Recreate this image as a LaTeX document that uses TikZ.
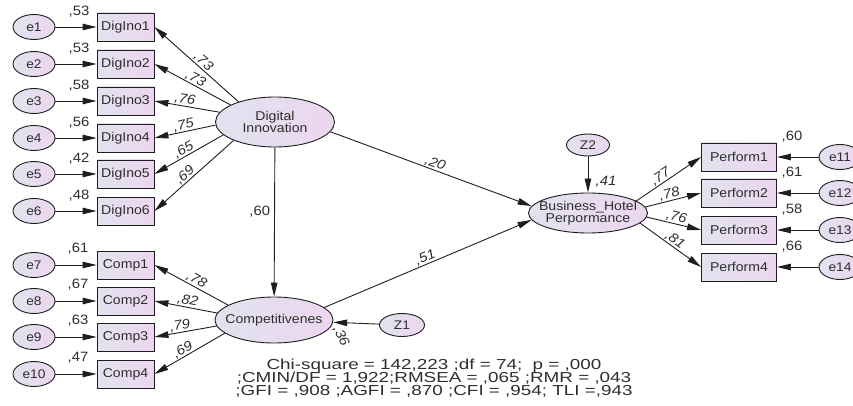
\documentclass[tikz,border=0pt]{standalone}
\usepackage{fontspec}
\setmainfont[FakeStretch=1.1]{Liberation Sans}
\newfontfamily\statfont[FakeStretch=1.3]{Liberation Sans}
\usetikzlibrary{arrows.meta,shapes.geometric}
\definecolor{shadeleft}{HTML}{E1E3EF}
\definecolor{shaderight}{HTML}{ECD6EF}
\definecolor{inkgray}{HTML}{2E2E2E}
\definecolor{edgegray}{HTML}{1E1E1E}
\tikzset{
  >={Triangle[length=14pt,width=6.5pt]},
  obs/.style={draw=edgegray, line width=0.9pt, left color=shadeleft,
    right color=shaderight, minimum width=57pt, minimum height=28pt,
    inner sep=0pt, text=inkgray, font=\fontsize{12.8}{14}\selectfont},
  latent/.style={ellipse, draw=edgegray, line width=0.9pt,
    left color=shadeleft, right color=shaderight, inner xsep=-8pt,
    inner ysep=0pt, align=center, text=inkgray,
    font=\fontsize{12.8}{12.5}\selectfont},
  err/.style={latent, minimum width=42pt, minimum height=25pt,
    font=\fontsize{12.5}{14}\selectfont},
  lbl/.style={inner sep=1pt, text=inkgray, font=\fontsize{13.5}{15}\selectfont},
  coef/.style={lbl, sloped, above, inner sep=0.5pt,
    font=\itshape\fontsize{13.5}{15}\selectfont},
}
\begin{document}
\begin{tikzpicture}[x=1pt,y=-1pt]
  \clip (0,0) rectangle (853,406);
  \path
    (34,27) node[err] (e1){e1}
    (34,64) node[err] (e2){e2}
    (34,101) node[err] (e3){e3}
    (34,138) node[err] (e4){e4}
    (34,174) node[err] (e5){e5}
    (34,211) node[err] (e6){e6}
    (34,265) node[err] (e7){e7}
    (34,301) node[err] (e8){e8}
    (34,337) node[err] (e9){e9}
    (34,374) node[err] (e10){e10}
    (840,157) node[err] (e11){e11}
    (840,193) node[err] (e12){e12}
    (840,230) node[err] (e13){e13}
    (840,267) node[err] (e14){e14}
    (125.5,27) node[obs] (DigIno1){DigIno1}
    (125.5,64) node[obs] (DigIno2){DigIno2}
    (125.5,101) node[obs] (DigIno3){DigIno3}
    (125.5,138) node[obs] (DigIno4){DigIno4}
    (125.5,174) node[obs] (DigIno5){DigIno5}
    (125.5,211) node[obs] (DigIno6){DigIno6}
    (125.5,265) node[obs] (Comp1){Comp1}
    (125.5,301) node[obs] (Comp2){Comp2}
    (125.5,337) node[obs] (Comp3){Comp3}
    (125.5,374) node[obs] (Comp4){Comp4}
    (739,157) node[obs, minimum width=75pt] (Perform1){Perform1}
    (739,193) node[obs, minimum width=75pt] (Perform2){Perform2}
    (739,230) node[obs, minimum width=75pt] (Perform3){Perform3}
    (739,267) node[obs, minimum width=75pt] (Perform4){Perform4}
    (275,122) node[latent, minimum width=119pt, minimum height=50pt] (DI){Digital\\Innovation}
    (274,320) node[latent, minimum width=118pt, minimum height=46pt] (Comp){Competitivenes}
    (588,213) node[latent, minimum width=119pt, minimum height=40pt] (BHP){Business\_Hotel\\Perpormance}
    (402,325) node[err, minimum width=45pt, minimum height=23pt] (Z1){Z1}
    (588,145) node[err, minimum width=43pt, minimum height=22pt] (Z2){Z2};
  % squared multiple correlations
  \path
    (79,12) node[lbl] (r1){,53}
    (79,49) node[lbl] (r2){,53}
    (79,86) node[lbl] (r3){,58}
    (79,123) node[lbl] (r4){,56}
    (79,159) node[lbl] (r5){,42}
    (79,196) node[lbl] (r6){,48}
    (78,249) node[lbl] (r7){,61}
    (78,285) node[lbl] (r8){,67}
    (78,321) node[lbl] (r9){,63}
    (78,358) node[lbl] (r10){,47}
    (792,137) node[lbl] (r11){,60}
    (792,173) node[lbl] (r12){,61}
    (792,210) node[lbl] (r13){,58}
    (792,247) node[lbl] (r14){,66}
    (606,182) node[lbl, font=\itshape\fontsize{13.5}{15}\selectfont] (rbhp){,41}
    (341,336) node[lbl, rotate=-65, font=\itshape\fontsize{13.5}{15}\selectfont] (rcomp){,36};
  \begin{scope}[->, draw=edgegray, line width=0.9pt]
    \draw (e1) to (DigIno1);
    \draw (e2) to (DigIno2);
    \draw (e3) to (DigIno3);
    \draw (e4) to (DigIno4);
    \draw (e5) to (DigIno5);
    \draw (e6) to (DigIno6);
    \draw (e7) to (Comp1);
    \draw (e8) to (Comp2);
    \draw (e9) to (Comp3);
    \draw (e10) to (Comp4);
    \draw (e11) to (Perform1);
    \draw (e12) to (Perform2);
    \draw (e13) to (Perform3);
    \draw (e14) to (Perform4);
    \draw (DI.151) to node[coef, pos=.47] (c1){,73} (DigIno1.east);
    \draw (DI.159) to node[coef, pos=.5] (c2){,73} (DigIno2.east);
    \draw (DI.170) to node[coef, pos=.55] (c3){,76} (DigIno3.east);
    \draw (DI.183) to node[coef, pos=.5] (c4){,75} (DigIno4.east);
    \draw (DI.194) to node[coef, pos=.53] (c5){,65} (DigIno5.east);
    \draw (DI.204) to node[coef, pos=.56] (c6){,69} (DigIno6.east);
    \draw (Comp.162) to node[coef, pos=.47] (c7){,78} (Comp1.east);
    \draw (Comp.173) to node[coef, pos=.49] (c8){,82} (Comp2.east);
    \draw (Comp.186) to node[coef, pos=.57] (c9){,79} (Comp3.east);
    \draw (Comp.195) to node[coef, pos=.55] (c10){,69} (Comp4.east);
    \draw (BHP.14) to node[coef, pos=.43] (c11){,77} (Perform1.west);
    \draw (BHP.6) to node[coef, pos=.46] (c12){,78} (Perform2.west);
    \draw (BHP.356) to node[coef, pos=.52] (c13){,76} (Perform3.west);
    \draw (BHP.349) to node[coef, pos=.51] (c14){,81} (Perform4.west);
    \draw (DI) to node[lbl, left, pos=.43, inner sep=4pt] (c15){,60} (Comp);
    \draw (DI.350) to node[coef, pos=.51] (c16){,20} (BHP.173);
    \draw (Comp.14) to node[coef, pos=.5] (c17){,51} (BHP.187);
    \draw (Z1) to (Comp);
    \draw (Z2) to (BHP);
  \end{scope}
  \node[anchor=north, inner sep=0pt, align=center, text=inkgray,
    font=\statfont\fontsize{14.5}{15}\selectfont] (fit) at (434,359)
    {Chi-square = 142,223 ;df = 74;\ \ p = ,000\\[-2pt]
     ;CMIN/DF = 1,922;RMSEA = ,065 ;RMR = ,043\\[-2pt]
     ;GFI = ,908 ;AGFI = ,870 ;CFI = ,954; TLI =,943};
\end{tikzpicture}
\end{document}
